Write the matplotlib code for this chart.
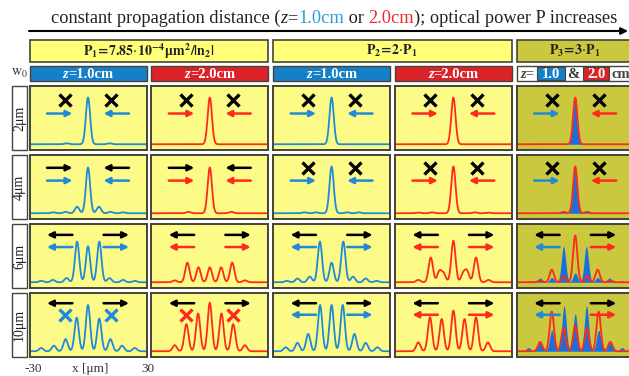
import numpy as np
import matplotlib.pyplot as plt
from matplotlib.patches import Rectangle
from matplotlib import transforms

plt.rcParams['font.family'] = ['Liberation Serif', 'DejaVu Serif']
plt.rcParams['mathtext.fontset'] = 'stix'

W, H = 629, 376

# labels
w0_labels = ['2μm', '4μm', '6μm', '10μm']
power_labels = [r'$\mathbf{P_1\!=\!7.85}\!\cdot\!\mathbf{10^{-4}\mu m^2/|n_2|}$',
                r'$\mathbf{P_2\!=\!2}\!\cdot\!\mathbf{P_1}$',
                r'$\mathbf{P_3\!=\!3}\!\cdot\!\mathbf{P_1}$']
z_values = ['1.0', '2.0', '1.0', '2.0']
x_ticks = [-30, 30]

# peaks: (x in um, height), one list per w0 row
p1_z1 = [
    [(0, 1.0), (-11, 0.02), (11, 0.02)],
    [(0, 0.98), (-5.6, 0.14), (5.6, 0.14), (-11.5, 0.03), (11.5, 0.03), (-18, 0.02), (18, 0.02)],
    [(0, 0.77), (-5.6, 0.87), (5.8, 0.87), (-11, 0.09), (11, 0.09), (-18, 0.05), (18, 0.05), (-24, 0.03), (24, 0.03)],
    [(0, 0.99), (-5.8, 0.72), (5.8, 0.70), (-11.5, 0.26), (11.5, 0.26), (-17.5, 0.12), (17.5, 0.12), (-24, 0.07), (24, 0.07)],
]
p1_z2 = [
    [(0, 1.0)],
    [(0, 0.98), (-11, 0.03), (11, 0.03)],
    [(0, 0.32), (-5.8, 0.32), (5.8, 0.32), (-11.5, 0.42), (11.5, 0.42), (-18, 0.04), (18, 0.04)],
    [(0, 1.04), (-6, 0.81), (6, 0.81), (-12, 0.58), (12, 0.58), (-18, 0.13), (18, 0.13)],
]
p2_z1 = [
    [(0, 1.0)],
    [(0, 1.0), (-8, 0.02), (8, 0.02), (-14, 0.02), (14, 0.02)],
    [(0, 0.42), (-6, 0.87), (6, 0.87), (-11.2, 0.12), (11, 0.12), (-17.5, 0.08), (17.5, 0.08), (-23, 0.03), (23, 0.03)],
    [(0, 0.99), (-5.9, 0.99), (5.7, 0.99), (-12, 0.37), (11.7, 0.37), (-17.5, 0.18), (17.5, 0.18), (-23.5, 0.085), (23.5, 0.085)],
]
p2_z2 = [
    [(0, 1.0)],
    [(0, 1.0), (-11, 0.02), (11, 0.02), (-18, 0.015), (18, 0.015)],
    [(0, 0.89), (-5, 0.18), (5, 0.18), (-7.2, 0.23), (7, 0.23), (-11.6, 0.53), (11.6, 0.53), (-18, 0.05), (18, 0.05)],
    [(0, 0.87), (-6, 0.69), (5.7, 0.69), (-12, 0.73), (11.6, 0.73), (-18, 0.19), (17.7, 0.19)],
]
# P3: z=1.0cm is drawn filled, z=2.0cm as line on top
p3_z1 = [
    [(0, 1.0)],
    [(0, 1.0), (-6, 0.04), (6, 0.04)],
    [(0, 0.2), (-6, 0.77), (5.7, 0.77), (-12, 0.1), (11.5, 0.1), (-18, 0.09), (17.5, 0.09), (-24, 0.03), (24, 0.03)],
    [(0, 0.8), (-5.7, 0.97), (5.8, 0.97), (-12, 0.45), (12, 0.45), (-18, 0.2), (18, 0.2), (-24, 0.08), (24, 0.08)],
]
p3_z2 = [
    [(0, 1.0)],
    [(0, 1.0), (-6, 0.03), (6, 0.03)],
    [(0, 1.0), (-6, 0.13), (6, 0.13), (-12, 0.27), (11.5, 0.27), (-18, 0.04), (18, 0.04)],
    [(0, 0.55), (-6, 0.5), (6, 0.5), (-12, 0.85), (12, 0.85), (-18, 0.2), (18, 0.2)],
]

# what sits above the profile: 'x' = cross, 'in'/'out' = arrow pairs
top_marks = [['x'] * 5, ['in', 'in', 'x', 'x', 'x'], ['out'] * 5, ['out'] * 5]
low_marks = [['in'] * 5, ['in'] * 5, ['out'] * 5, ['x', 'x', 'out', 'out', 'out']]

BLUE = '#1f8ad6'
RED = '#ff2a1e'
BLUE_BOX = '#1580c8'
RED_BOX = '#dc2229'
FILL = '#1a6fe0'
YELLOW = '#fdfb88'
OLIVE = '#c9c83e'
EDGE = '#444438'
SIGMA = 1.1

x = np.linspace(-30, 30, 601)


def profile(peaks):
    y = np.zeros_like(x)
    for pos, h in peaks:
        y += h * np.exp(-0.5 * ((x - pos) / SIGMA) ** 2)
    return y


fig = plt.figure(figsize=(W / 100, H / 100), dpi=100)
ov = fig.add_axes([0, 0, 1, 1])
ov.set_xlim(0, W)
ov.set_ylim(H, 0)
ov.axis('off')
renderer = fig.canvas.get_renderer()


def text_width(s, **kw):
    t = ov.text(0, 0, s + '|', **kw)
    b = ov.text(0, 0, '|', **kw)
    w = t.get_window_extent(renderer).width - b.get_window_extent(renderer).width
    t.remove()
    b.remove()
    return w


def rich_text(xc, y, parts, **common):
    widths = [text_width(s, **{**common, **kw}) for s, kw in parts]
    x0 = xc - sum(widths) / 2
    for (s, kw), w in zip(parts, widths):
        ov.text(x0, y, s, va='baseline', ha='left', **{**common, **kw})
        x0 += w


# title + arrow
rich_text(334, 23, [('constant propagation distance (', {}), ('z', {'style': 'italic'}),
                    ('=', {}), ('1.0cm', {'color': '#2a9ad8'}), (' or ', {}),
                    ('2.0cm', {'color': '#e82a2a'}), ('); optical power P increases', {})],
          fontsize=13.2, color='#222222')
ov.annotate('', xy=(628, 31), xytext=(29, 31),
            arrowprops=dict(arrowstyle='-|>', color='k', lw=1.5, mutation_scale=10,
                            shrinkA=0, shrinkB=0))

col_x = [29.5 + 121.8 * i for i in range(5)]
row_y = [86 + 69 * j for j in range(4)]
PW, PH = 117, 64

# power header boxes
pw_boxes = [(col_x[0], col_x[1] + PW), (col_x[2], col_x[3] + PW), (col_x[4], col_x[4] + 2 * PW)]
for (a, b), lab, fc in zip(pw_boxes, power_labels, ['#ffff78', '#ffff78', OLIVE]):
    ov.add_patch(Rectangle((a, 40), b - a, 22, fc=fc, ec=EDGE, lw=1.2))
    xc = (a + a + PW) / 2 if b > W else (a + b) / 2
    ov.text(xc, 51, lab, ha='center', va='center', fontsize=10, color='#222222')

# z header boxes
for i, zv in enumerate(z_values):
    fc = BLUE_BOX if i % 2 == 0 else RED_BOX
    ov.add_patch(Rectangle((col_x[i], 66), PW, 15, fc=fc, ec=EDGE, lw=1.0))
    rich_text(col_x[i] + PW / 2, 78, [('z', {'style': 'italic'}), ('=' + zv + 'cm', {})],
              fontsize=10.5, color='white', weight='bold')
ov.add_patch(Rectangle((col_x[4], 66), PW, 15, fc='white', ec=EDGE, lw=1.0))
ov.add_patch(Rectangle((537, 67), 28, 13, fc=BLUE_BOX, ec=EDGE, lw=0.8))
ov.add_patch(Rectangle((583, 67), 26, 13, fc=RED_BOX, ec=EDGE, lw=0.8))
ov.text(527, 78, 'z=', ha='center', va='baseline', fontsize=10.5, weight='bold',
        style='italic', color='#444444')
ov.text(551, 78, z_values[0], ha='center', va='baseline', fontsize=10.5, weight='bold', color='white')
ov.text(573.5, 78, '&', ha='center', va='baseline', fontsize=10.5, weight='bold', color='#333333')
ov.text(596, 78, z_values[1], ha='center', va='baseline', fontsize=10.5, weight='bold', color='white')
ov.text(611, 78, 'cm', ha='left', va='baseline', fontsize=10.5, weight='bold', color='#444444')

# w0 row labels
ov.text(19, 73, r'$\mathrm{w_0}$', ha='center', va='center', fontsize=10, color='#333333')
for j, lab in enumerate(w0_labels):
    ov.add_patch(Rectangle((11.5, row_y[j]), 15, PH, fc='white', ec=EDGE, lw=1.0))
    ov.text(19.5, row_y[j] + PH / 2, lab, rotation=90, ha='center', va='center',
            fontsize=10, color='#222222')

# x axis hint below first column
ov.text(col_x[0] + 4, 369, str(x_ticks[0]), ha='center', va='center', fontsize=9.5, color='#333333')
ov.text(col_x[0] + 61, 369, 'x [μm]', ha='center', va='center', fontsize=9.5, color='#333333')
ov.text(col_x[0] + PW + 1, 369, str(x_ticks[1]), ha='center', va='center', fontsize=9.5, color='#333333')

columns = [p1_z1, p1_z2, p2_z1, p2_z2, p3_z1]
line_colors = [BLUE, RED, BLUE, RED, RED]
top_y = [0.78, 0.80, 0.83, 0.84]
low_y = [0.57, 0.60, 0.64, 0.66]


def arrow(ax, tr, x0, x1, y, c):
    ax.annotate('', xy=(x1, y), xytext=(x0, y), xycoords=tr, textcoords=tr,
                arrowprops=dict(arrowstyle='-|>', color=c, lw=1.8, mutation_scale=9,
                                shrinkA=0, shrinkB=0))


def marks(ax, kind, y, lc, rc):
    tr = transforms.blended_transform_factory(ax.transData, ax.transAxes)
    if kind == 'x':
        ax.plot([-12], [y], ls='none', marker='x', ms=8.5, mew=2.4, color=lc, transform=tr)
        ax.plot([12], [y], ls='none', marker='x', ms=8.5, mew=2.4, color=rc, transform=tr)
    elif kind == 'in':
        arrow(ax, tr, -21, -8, y, lc)
        arrow(ax, tr, 21, 8, y, rc)
    else:
        arrow(ax, tr, -8, -21, y, lc)
        arrow(ax, tr, 8, 21, y, rc)


for j in range(4):
    for i in range(5):
        ax = fig.add_axes([col_x[i] / W, 1 - (row_y[j] + PH) / H, PW / W, PH / H])
        ax.set_facecolor(OLIVE if i == 4 else YELLOW)
        ax.set_xlim(-30, 30)
        ax.set_ylim(-0.123, 1.247)
        ax.set_xticks([])
        ax.set_yticks([])
        for s in ax.spines.values():
            s.set_color(EDGE)
            s.set_linewidth(1.4)
        if i == 4:
            ax.fill_between(x, 0, profile(p3_z1[j]), color=FILL, lw=0)
            ax.plot(x, profile(p3_z2[j]), color=RED, lw=1.3)
        else:
            ax.plot(x, profile(columns[i][j]), color=line_colors[i], lw=1.3)
        if i == 4:
            lc, rc = BLUE, RED
        else:
            lc = rc = line_colors[i]
        marks(ax, top_marks[j][i], top_y[j], 'k', 'k')
        marks(ax, low_marks[j][i], low_y[j], lc, rc)

fig.savefig('out.png', dpi=100)
